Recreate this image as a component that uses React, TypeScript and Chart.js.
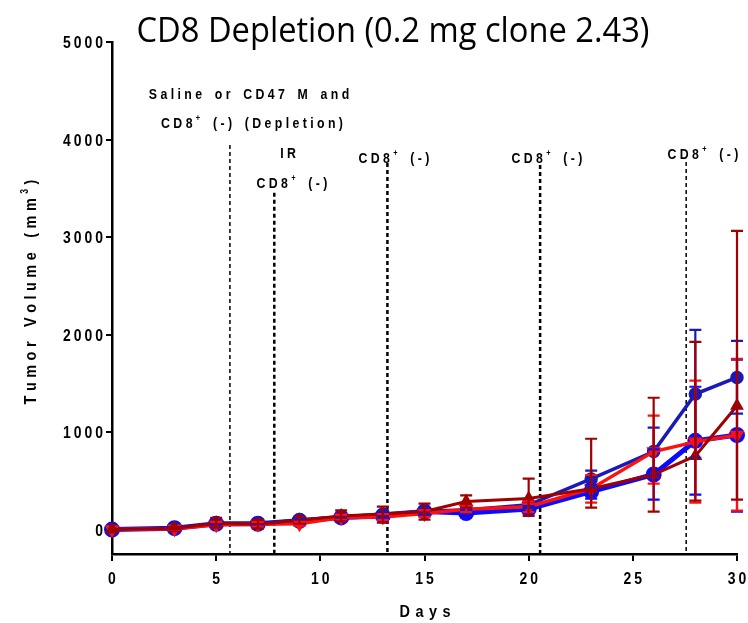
import React, { useEffect, useRef } from "react";
import { Chart, registerables } from "chart.js";

Chart.register(...registerables);

// ---------- data ----------
const days = [0, 3, 5, 7, 9, 11, 13, 15, 17, 20, 23, 26, 28, 30];

const darkRedMean = [0, 15, 65, 55, 95, 140, 160, 185, 288, 320, 420, 565, 755, 1270];
const darkRedLow = [0, 5, 20, 10, 60, 85, 72, 102, 225, 140, 225, 184, 297, 307];
const darkRedHigh = [0, 25, 120, 100, 130, 198, 235, 266, 351, 522, 932, 1352, 1926, 3063];

const redMean = [0, 10, 50, 55, 60, 125, 130, 165, 210, 235, 420, 800, 900, 970];
const redLow = [0, 0, 20, 30, 40, 100, 100, 130, 180, 180, 277, 471, 277, 195];
const redHigh = [0, 20, 80, 80, 80, 150, 160, 200, 240, 290, 560, 1168, 1527, 1752];

const darkBlueMean = [0, 15, 60, 60, 95, 130, 160, 190, 200, 255, 520, 800, 1390, 1560];
const darkBlueLow = [0, 5, 40, 40, 75, 110, 130, 160, 170, 220, 440, 555, 737, 1190];
const darkBlueHigh = [0, 25, 80, 80, 115, 150, 190, 220, 230, 290, 604, 1045, 2049, 1936];

const blueMean = [0, 15, 60, 60, 90, 125, 140, 185, 170, 210, 390, 565, 910, 970];
const blueLow = [0, 5, 40, 40, 70, 105, 110, 150, 140, 180, 318, 307, 358, 184];
const blueHigh = [0, 25, 80, 80, 110, 145, 170, 220, 200, 240, 460, 823, 1465, 1742];

const xTicks = [0, 5, 10, 15, 20, 25, 30];
const yTicks = [0, 1000, 2000, 3000, 4000, 5000];

// treatment markers (day, top value)
const markerDays = [5.66, 7.79, 13.22, 20.55, 27.56];
const markerTops = [3945, 3453, 3760, 3740, 3770];

const TITLE = "CD8 Depletion (0.2 mg clone 2.43)";
const X_TITLE = "Days";

// ---------- text helpers ----------
type Seg = { t: string; sup?: boolean };
type TOpts = { size: number; spacing: number; scaleX?: number; family?: string; weight?: string; spaceExtra?: number };

function measureRich(ctx: CanvasRenderingContext2D, segs: Seg[], o: TOpts) {
  const sx = o.scaleX ?? 1;
  let w = 0;
  let n = 0;
  for (const s of segs) {
    const sz = s.sup ? o.size * 0.6 : o.size;
    ctx.font = `${o.weight ?? "bold"} ${sz}px ${o.family ?? "'Liberation Sans', Arial, sans-serif"}`;
    for (const ch of s.t) {
      if (n > 0) w += o.spacing;
      w += ctx.measureText(ch).width * sx + (ch === " " ? o.spaceExtra ?? 0 : 0);
      n++;
    }
  }
  return w;
}

function drawRich(
  ctx: CanvasRenderingContext2D,
  segs: Seg[],
  x: number,
  y: number,
  o: TOpts,
  align: "left" | "center" | "right" = "left"
) {
  const sx = o.scaleX ?? 1;
  const w = measureRich(ctx, segs, o);
  let cx = align === "left" ? x : align === "center" ? x - w / 2 : x - w;
  ctx.save();
  ctx.textBaseline = "alphabetic";
  ctx.textAlign = "left";
  ctx.fillStyle = "#000";
  for (const s of segs) {
    const sz = s.sup ? o.size * 0.6 : o.size;
    ctx.font = `${o.weight ?? "bold"} ${sz}px ${o.family ?? "'Liberation Sans', Arial, sans-serif"}`;
    const dy = s.sup ? -o.size * 0.45 : 0;
    for (const ch of s.t) {
      const cw = ctx.measureText(ch).width * sx + (ch === " " ? o.spaceExtra ?? 0 : 0);
      ctx.save();
      ctx.translate(cx, y + dy);
      ctx.scale(sx, 1);
      ctx.fillText(ch, 0, 0);
      ctx.restore();
      cx += cw + o.spacing;
    }
  }
  ctx.restore();
}

const cd8 = (): Seg[] => [{ t: "CD8" }, { t: "+", sup: true }, { t: " (-)" }];

// ---------- plugins ----------
const series = [
  { low: darkRedLow, high: darkRedHigh, color: "#a00000" },
  { low: redLow, high: redHigh, color: "#ff1010" },
  { low: darkBlueLow, high: darkBlueHigh, color: "#1a1ab8" },
  { low: blueLow, high: blueHigh, color: "#0a0aff" },
];

const decorPlugin = {
  id: "decor",
  beforeDatasetsDraw(chart: any) {
    const { ctx, scales } = chart;
    const x = scales.x;
    const y = scales.y;
    ctx.save();
    ctx.strokeStyle = "#000";
    ctx.setLineDash([4, 3]);
    const widths = [1.5, 2.5, 2.5, 2.5, 1.5];
    markerDays.forEach((d, i) => {
      const px = x.getPixelForValue(d);
      ctx.lineWidth = widths[i];
      ctx.beginPath();
      ctx.moveTo(px, y.getPixelForValue(markerTops[i]));
      ctx.lineTo(px, y.bottom);
      ctx.stroke();
    });
    ctx.restore();
  },
  afterDatasetsDraw(chart: any) {
    const { ctx, scales } = chart;
    const x = scales.x;
    const y = scales.y;
    ctx.save();
    ctx.lineWidth = 2.2;
    for (let k = series.length - 1; k >= 0; k--) {
      const s = series[k];
      ctx.strokeStyle = s.color;
      days.forEach((d, i) => {
        if (s.high[i] - s.low[i] <= 0) return;
        const px = x.getPixelForValue(d);
        const pl = y.getPixelForValue(s.low[i]);
        const ph = y.getPixelForValue(s.high[i]);
        ctx.beginPath();
        ctx.moveTo(px, pl);
        ctx.lineTo(px, ph);
        ctx.moveTo(px - 6, pl);
        ctx.lineTo(px + 6, pl);
        ctx.moveTo(px - 6, ph);
        ctx.lineTo(px + 6, ph);
        ctx.stroke();
      });
    }
    ctx.restore();
  },
  afterDraw(chart: any) {
    const { ctx, scales } = chart;
    const x = scales.x;
    const y = scales.y;
    const tick: TOpts = { size: 17, spacing: 3, scaleX: 0.82 };
    yTicks.forEach((v) => {
      drawRich(ctx, [{ t: String(v) }], 103, y.getPixelForValue(v) + 6, tick, "right");
    });
    xTicks.forEach((v) => {
      drawRich(ctx, [{ t: String(v) }], x.getPixelForValue(v), 584, tick, "center");
    });
    drawRich(ctx, [{ t: X_TITLE }], 425, 617, { size: 17, spacing: 5.5, scaleX: 0.85 }, "center");

    // y title rotated
    ctx.save();
    ctx.translate(36, 292);
    ctx.rotate(-Math.PI / 2);
    drawRich(
      ctx,
      [{ t: "Tumor Volume (mm" }, { t: "3", sup: true }, { t: ")" }],
      0,
      0,
      { size: 17, spacing: 4.5, scaleX: 0.85, spaceExtra: 1.5 },
      "center"
    );
    ctx.restore();

    // annotations
    const ann: TOpts = { size: 15, spacing: 3.4, scaleX: 0.82, spaceExtra: 2.5 };
    drawRich(ctx, [{ t: "Saline or CD47 M and" }], 249, 99, ann, "center");
    drawRich(ctx, [{ t: "CD8" }, { t: "+", sup: true }, { t: " (-) (Depletion)" }], 252, 128, ann, "center");
    drawRich(ctx, [{ t: "IR" }], 288, 158, ann, "center");
    drawRich(ctx, cd8(), 292, 188, ann, "center");
    drawRich(ctx, cd8(), 394, 163, ann, "center");
    drawRich(ctx, cd8(), 547, 163, ann, "center");
    drawRich(ctx, cd8(), 703, 159, ann, "center");

    // main title, fitted to width
    ctx.save();
    ctx.font = "34px 'Open Sans', sans-serif";
    const tw = ctx.measureText(TITLE).width;
    const target = 513;
    ctx.translate(393, 42);
    ctx.scale(target / tw, 1);
    ctx.fillStyle = "#000";
    ctx.textAlign = "center";
    ctx.textBaseline = "alphabetic";
    ctx.fillText(TITLE, 0, 0);
    ctx.restore();
  },
};

function mk(mean: number[]) {
  return days.map((d, i) => ({ x: d, y: mean[i] }));
}

export default function App() {
  const ref = useRef<HTMLCanvasElement | null>(null);
  useEffect(() => {
    if (!ref.current) return;
    const chart = new Chart(ref.current, {
      type: "line",
      data: {
        datasets: [
          {
            label: "dark red",
            data: mk(darkRedMean),
            borderColor: "#a00000",
            backgroundColor: "#a00000",
            borderWidth: 3,
            pointStyle: "triangle",
            pointRadius: 5,
            clip: false,
          } as any,
          {
            label: "red",
            data: mk(redMean),
            borderColor: "#ff1010",
            backgroundColor: "#ff1010",
            borderWidth: 3.5,
            pointStyle: "triangle",
            pointRotation: 180,
            pointRadius: 5,
            clip: false,
          },
          {
            label: "dark blue",
            data: mk(darkBlueMean),
            borderColor: "#1a1ab8",
            backgroundColor: "#1a1ab8",
            borderWidth: 3.5,
            pointStyle: "circle",
            pointRadius: 5,
            clip: false,
          },
          {
            label: "blue",
            data: mk(blueMean),
            borderColor: "#0a0aff",
            backgroundColor: "#0a0aff",
            borderWidth: 5,
            pointStyle: "circle",
            pointRadius: 5.5,
            clip: false,
          },
        ],
      },
      options: {
        animation: false,
        responsive: false,
        parsing: true,
        layout: { padding: { left: 0, right: 11, top: 42, bottom: 0 } },
        plugins: { legend: { display: false }, tooltip: { enabled: false }, title: { display: false } },
        elements: { line: { tension: 0 }, point: { borderWidth: 0 } },
        scales: {
          x: {
            type: "linear",
            min: 0,
            max: 30,
            afterBuildTicks: (s: any) => {
              s.ticks = xTicks.map((v) => ({ value: v }));
            },
            afterFit: (s: any) => {
              s.height = 69;
            },
            ticks: { display: false },
            grid: { drawOnChartArea: false, drawTicks: true, tickLength: 7, color: "#000", lineWidth: 2 },
            border: { display: true, color: "#000", width: 2.5 },
          },
          y: {
            type: "linear",
            min: -250,
            max: 5000,
            afterBuildTicks: (s: any) => {
              s.ticks = yTicks.map((v) => ({ value: v }));
            },
            afterFit: (s: any) => {
              s.width = 112;
            },
            ticks: { display: false },
            grid: { drawOnChartArea: false, drawTicks: true, tickLength: 6, color: "#000", lineWidth: 2 },
            border: { display: true, color: "#000", width: 2.5 },
          },
        },
      },
      plugins: [decorPlugin],
    });
    return () => chart.destroy();
  }, []);
  return (
    <div style={{ position: "fixed", left: 0, top: 0, width: 748, height: 623, background: "#fff" }}>
      <canvas ref={ref} width={748} height={623} style={{ display: "block" }} />
    </div>
  );
}
